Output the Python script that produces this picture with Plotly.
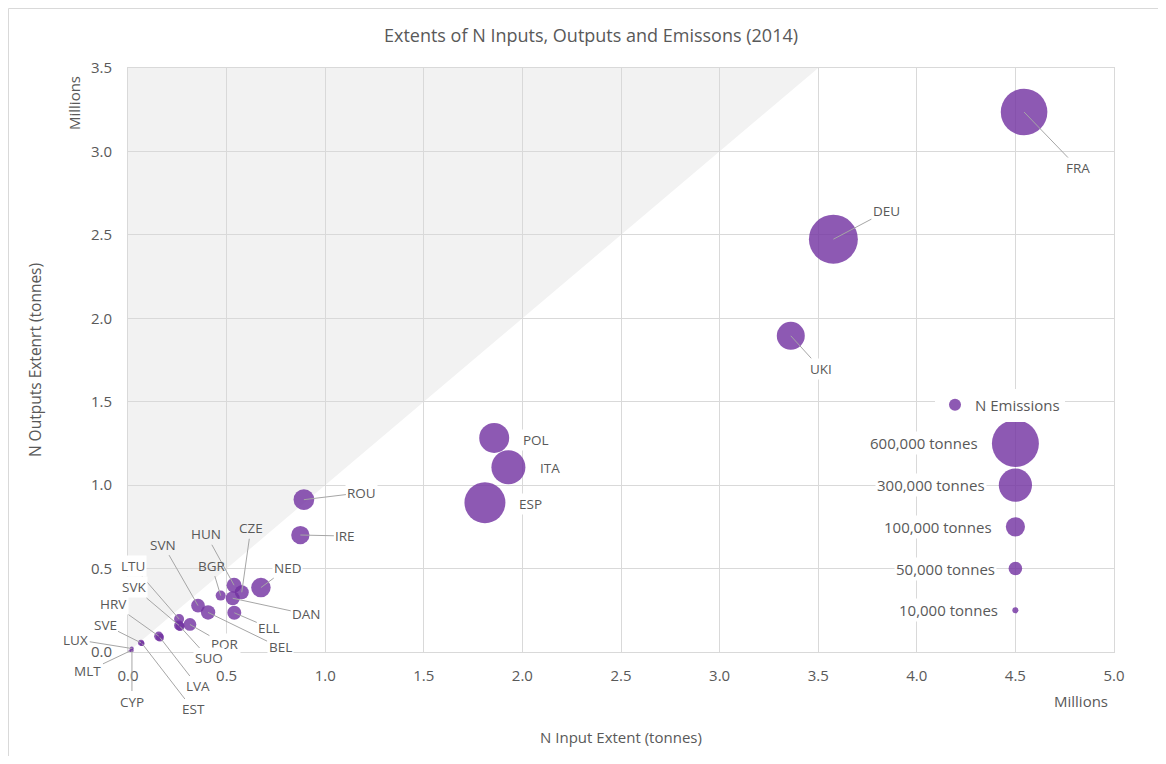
import plotly.graph_objects as go

# ---------------- data ----------------
countries = ["FRA", "DEU", "UKI", "POL", "ITA", "ESP", "ROU", "IRE", "NED", "HUN",
             "CZE", "DAN", "BGR", "ELL", "BEL", "SVN", "POR", "LTU", "SVK", "SUO",
             "HRV", "LVA", "SVE", "EST", "LUX", "MLT", "CYP"]
n_input_t = [4544000, 3577000, 3361000, 1857000, 1929000, 1810000, 892000, 874000, 674000, 538000,
             577000, 531000, 470000, 539000, 406000, 355000, 314000, 259000, 259000, 264000,
             156000, 162000, 66000, 71000, 19000, 10000, 20000]
n_output_t = [3236000, 2474000, 1895000, 1283000, 1107000, 895000, 913000, 701000, 386000, 400000,
              358000, 322000, 338000, 235000, 237000, 278000, 165000, 198000, 159000, 153000,
              95000, 87000, 55000, 51000, 21000, 6000, 9000]
n_emissions_t = [590000, 650000, 213000, 244000, 314000, 456000, 116000, 91000, 103000, 61000,
                 53000, 53000, 27000, 53000, 56000, 51000, 44000, 27000, 27000, 22000,
                 23000, 17000, 10000, 7000, 4300, 2400, 3300]

key_sizes_t = [600000, 300000, 100000, 50000, 10000]
key_x_t = [4500000, 4500000, 4500000, 4500000, 4500000]
key_y_t = [1250000, 1000000, 750000, 500000, 250000]

x_ticks = [0.0, 0.5, 1.0, 1.5, 2.0, 2.5, 3.0, 3.5, 4.0, 4.5, 5.0]
y_ticks = [0.0, 0.5, 1.0, 1.5, 2.0, 2.5, 3.0, 3.5]

# label offsets (pixels, label centre relative to bubble centre) and leader-line flag
label_dx = [54, 53, 30, 42, 42, 46, 58, 45, 27, -28,
            9, 74, -9, 35, 72, -35, 35, -46, -45, 29,
            -45, 38, -36, 51, -56, -42, 0]
label_dy = [56, -28, 33, 2, 1, 1, -7, 1, -20, -51,
            -64, 16, -30, 15, 35, -61, 20, -53, -38, 32,
            -32, 49, -18, 66, -9, 20, 51]
no_leader = ["POL", "ITA", "ESP"]
over_shade = ["HUN", "CZE", "SVN", "BGR"]

# ---------------- styling ----------------
PW, PH = 1150, 748
ML, MR, MT, MB = 120, 44, 60, 104
PLOT_W = PW - ML - MR
PLOT_H = PH - MT - MB
TXT = "#595959"
GRID = "#D9D9D9"
BUBBLE = "#7030A0"
FONT = "Open Sans, Segoe UI, sans-serif"
MAX_D = 47.0
SIZEREF = 2 * 600000 / MAX_D ** 2
M = 1e6


def paper_x(fx):
    return (fx - ML) / PLOT_W


def paper_y(fy):
    return (PH - MB - fy) / PLOT_H


fig = go.Figure()

fig.add_trace(go.Scatter(
    x=[v / M for v in n_input_t], y=[v / M for v in n_output_t],
    mode="markers", name="N Emissions", text=countries,
    marker=dict(size=n_emissions_t, sizemode="area", sizeref=SIZEREF, sizemin=1,
                color=BUBBLE, opacity=0.8, line=dict(width=0)),
    hovertemplate="%{text}<extra></extra>",
))

fig.add_trace(go.Scatter(
    x=[v / M for v in key_x_t], y=[v / M for v in key_y_t],
    mode="markers", showlegend=False,
    marker=dict(size=key_sizes_t, sizemode="area", sizeref=SIZEREF,
                color=BUBBLE, opacity=0.8, line=dict(width=0)),
    hoverinfo="skip",
))

annotations = []
for name, xv, yv, dx, dy in zip(countries, n_input_t, n_output_t, label_dx, label_dy):
    bg = "rgba(0,0,0,0)" if name in over_shade else "white"
    if name in no_leader:
        annotations.append(dict(x=xv / M, y=yv / M, text=name, showarrow=False,
                                xshift=dx, yshift=-dy, bgcolor=bg,
                                font=dict(family=FONT, size=13.5, color=TXT)))
    else:
        annotations.append(dict(x=xv / M, y=yv / M, text=name, showarrow=True,
                                ax=dx, ay=dy, arrowhead=0, arrowwidth=1,
                                arrowcolor="#A6A6A6", standoff=0, bgcolor=bg,
                                font=dict(family=FONT, size=13.5, color=TXT)))

for s, kx, ky in zip(key_sizes_t, key_x_t, key_y_t):
    d = (2 * s / SIZEREF) ** 0.5
    annotations.append(dict(x=kx / M, y=ky / M, text=f"{s:,} tonnes", showarrow=False,
                            xanchor="right", xshift=-(d / 2 + 12), bgcolor="white",
                            font=dict(family=FONT, size=15, color=TXT)))

# unit labels
annotations.append(dict(xref="paper", yref="paper", x=paper_x(1073), y=paper_y(693),
                        text="Millions", showarrow=False, xanchor="center", yanchor="middle",
                        font=dict(family=FONT, size=15, color=TXT)))
annotations.append(dict(xref="paper", yref="paper", x=paper_x(66), y=paper_y(95),
                        text="Millions", showarrow=False, textangle=-90,
                        xanchor="center", yanchor="middle",
                        font=dict(family=FONT, size=15, color=TXT)))

ymax = y_ticks[-1]
shapes = [
    dict(type="path", xref="x", yref="y",
         path=f"M 0,0 L {ymax},{ymax} L 0,{ymax} Z",
         fillcolor="#F2F2F2", line=dict(width=0), layer="below"),
    dict(type="rect", xref="paper", yref="paper",
         x0=paper_x(0.5), x1=paper_x(PW + 20), y0=paper_y(PH + 20), y1=paper_y(0.5),
         line=dict(color=GRID, width=1), fillcolor="rgba(0,0,0,0)", layer="below"),
]

fig.update_layout(
    width=PW, height=PH,
    margin=dict(l=ML, r=MR, t=MT, b=MB, autoexpand=False),
    paper_bgcolor="white", plot_bgcolor="white",
    font=dict(family=FONT, color=TXT, size=15),
    title=dict(text="Extents of N Inputs, Outputs and Emissons (2014)",
               x=583 / PW, xref="container", xanchor="center",
               y=1 - 28 / PH, yref="container", yanchor="middle",
               font=dict(family=FONT, size=18, color=TXT)),
    showlegend=True,
    legend=dict(x=paper_x(927), y=paper_y(397), xanchor="left", yanchor="middle",
                bgcolor="white", borderwidth=0, itemsizing="constant",
                font=dict(family=FONT, size=15, color=TXT)),
    annotations=annotations,
    shapes=shapes,
    hovermode="closest",
)

fig.update_xaxes(range=[x_ticks[0], x_ticks[-1]], tickvals=x_ticks,
                 ticktext=[f"{v:.1f}" for v in x_ticks],
                 showgrid=True, gridcolor=GRID, gridwidth=1, zeroline=False,
                 showline=True, linecolor=GRID, linewidth=1, mirror=True, ticks="",
                 ticklabelstandoff=10, tickfont=dict(family=FONT, size=15, color=TXT),
                 title=dict(text="N Input Extent (tonnes)", standoff=48,
                            font=dict(family=FONT, size=15, color=TXT)))
fig.update_yaxes(range=[y_ticks[0], y_ticks[-1]], tickvals=y_ticks,
                 ticktext=[f"{v:.1f}" for v in y_ticks],
                 showgrid=True, gridcolor=GRID, gridwidth=1, zeroline=False,
                 showline=True, linecolor=GRID, linewidth=1, mirror=True, ticks="",
                 ticklabelstandoff=12, tickfont=dict(family=FONT, size=15, color=TXT),
                 title=dict(text="N Outputs Extenrt (tonnes)", standoff=45,
                            font=dict(family=FONT, size=15.5, color=TXT)))

fig.write_html("out.html")
